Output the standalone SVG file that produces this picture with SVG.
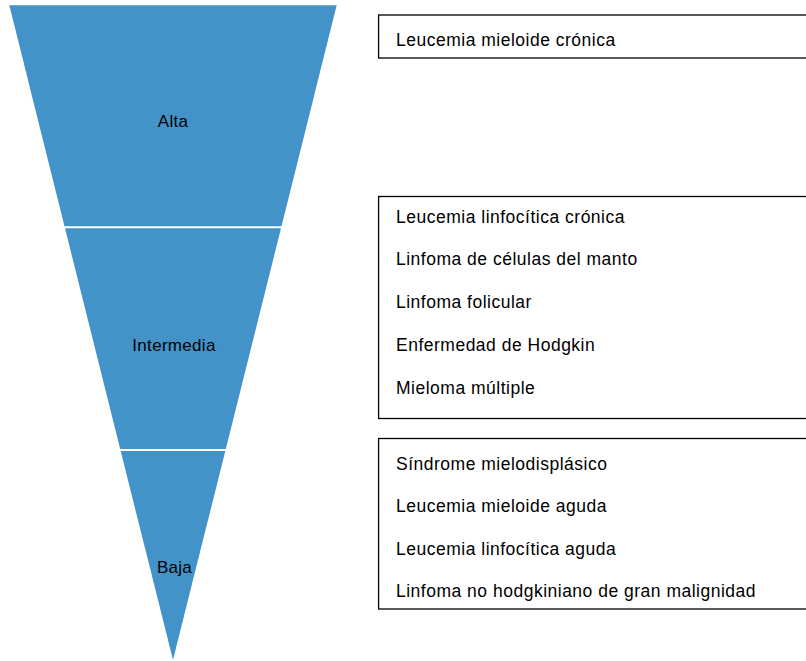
<svg xmlns="http://www.w3.org/2000/svg" width="806" height="661" viewBox="0 0 806 661">
  <style>
    .seg { fill: #4393c9; }
    .box { fill: #ffffff; stroke: #000000; stroke-width: 1.3; }
    .t { font-family: "Liberation Sans", Arial, Helvetica, sans-serif; font-size: 17.5px; letter-spacing: 0.5px; fill: #000000; }
    .lbl { text-anchor: middle; font-size: 17px; letter-spacing: 0.3px; }
  </style>
  <rect width="806" height="661" fill="#ffffff"/>

  <!-- Inverted funnel, three levels -->
  <g id="level-alta">
    <polygon class="seg" points="9.3,5.3 336.7,5.3 281.5,226.3 64.5,226.3"/>
    <text class="t lbl" x="173" y="126.5">Alta</text>
  </g>
  <g id="level-intermedia">
    <polygon class="seg" points="65,228.3 281,228.3 225.8,449 120.2,449"/>
    <text class="t lbl" x="174" y="350.5">Intermedia</text>
  </g>
  <g id="level-baja">
    <polygon class="seg" points="120.7,451 225.3,451 173,660"/>
    <text class="t lbl" x="174.5" y="573">Baja</text>
  </g>

  <!-- Disease lists -->
  <g id="list-alta">
    <rect class="box" x="378.6" y="15" width="440" height="43"/>
    <text class="t" x="396" y="46">Leucemia mieloide crónica</text>
  </g>
  <g id="list-intermedia">
    <rect class="box" x="378.6" y="196.5" width="440" height="222"/>
    <text class="t" x="396" y="222.5">Leucemia linfocítica crónica</text>
    <text class="t" x="396" y="265.3">Linfoma de células del manto</text>
    <text class="t" x="396" y="308">Linfoma folicular</text>
    <text class="t" x="396" y="350.8">Enfermedad de Hodgkin</text>
    <text class="t" x="396" y="393.5">Mieloma múltiple</text>
  </g>
  <g id="list-baja">
    <rect class="box" x="378.6" y="438.5" width="440" height="170.5"/>
    <text class="t" x="396" y="469.5">Síndrome mielodisplásico</text>
    <text class="t" x="396" y="512">Leucemia mieloide aguda</text>
    <text class="t" x="396" y="554.5">Leucemia linfocítica aguda</text>
    <text class="t" x="396" y="597">Linfoma no hodgkiniano de gran malignidad</text>
  </g>

  <g id="connectors"></g>
</svg>
